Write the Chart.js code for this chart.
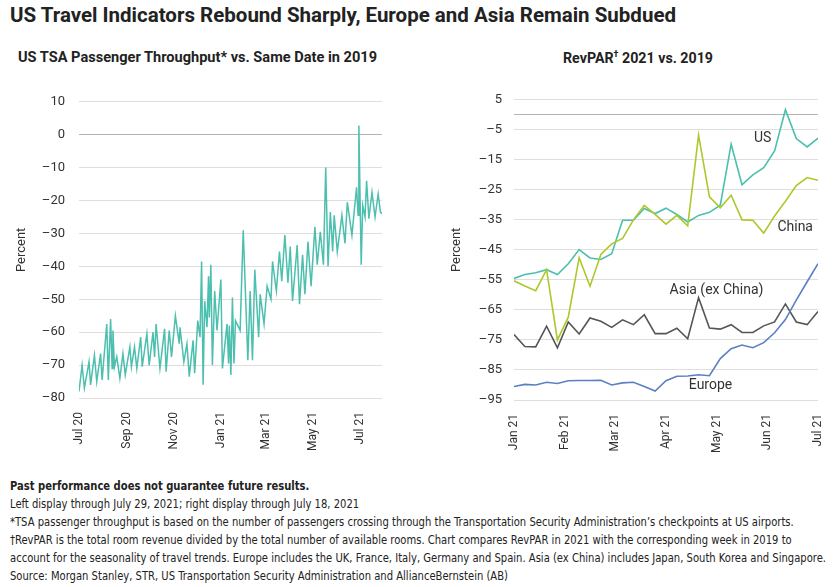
<!DOCTYPE html>
<html>
<head>
<meta charset="utf-8">
<script src="https://cdn.jsdelivr.net/npm/chart.js@4.4.1/dist/chart.umd.min.js"></script>
<style>
  body { margin: 0; width: 840px; height: 587px; background: #fff; position: relative; overflow: hidden; color: #222; font-family: Roboto, 'DejaVu Sans', sans-serif; }
  .fit { position: absolute; white-space: nowrap; transform-origin: 0 0; }
  .title { left: 10px; top: 3px; font-size: 20px; font-weight: 700; }
  .sub { top: 49px; font-size: 14px; font-weight: 700; }
  .notes { left: 10px; top: 477px; font-family: 'DejaVu Sans Condensed', Roboto, sans-serif; font-size: 12px; line-height: 18px; }
  .notes span { display: inline-block; }
  canvas { position: absolute; }
</style>
</head>
<body>
<div class="fit title"><span id="title">US Travel Indicators Rebound Sharply, Europe and Asia Remain Subdued</span></div>
<div class="fit sub" style="left:18px"><span id="subLeft">US TSA Passenger Throughput* vs. Same Date in 2019</span></div>
<div class="fit sub" style="left:563px"><span id="subRight">RevPAR<sup style="font-size:9px">†</sup> 2021 vs. 2019</span></div>
<canvas id="tsa" width="400" height="390" style="left:0;top:80px"></canvas>
<canvas id="revpar" width="420" height="390" style="left:420px;top:80px"></canvas>
<div class="fit notes" id="notes">
  <span style="font-weight:700">Past performance does not guarantee future results.</span><br>
  <span>Left display through July 29, 2021; right display through July 18, 2021</span><br>
  <span>*TSA passenger throughput is based on the number of passengers crossing through the Transportation Security Administration’s checkpoints at US airports.</span><br>
  <span>†RevPAR is the total room revenue divided by the total number of available rooms. Chart compares RevPAR in 2021 with the corresponding week in 2019 to</span><br>
  <span id="longNote">account for the seasonality of travel trends. Europe includes the UK, France, Italy, Germany and Spain. Asia (ex China) includes Japan, South Korea and Singapore.</span><br>
  <span>Source: Morgan Stanley, STR, US Transportation Security Administration and AllianceBernstein (AB)</span>
</div>
<script>
// left chart: days since Jul 1 2020, percent vs 2019
const tsaDays = [0, 4, 7, 13, 15, 20, 23, 28, 30, 36, 38, 41, 43, 44, 46, 49, 53, 57, 60, 66, 68, 72, 75, 80, 82, 88, 91, 96, 98, 100,
  105, 111, 113, 117, 120, 125, 130, 131, 136, 140, 143, 148, 150, 154, 157, 159, 161, 163, 166, 168, 169, 171, 173, 176, 179,
  184, 186, 192, 194, 195, 197, 199, 201, 203, 209, 213, 219, 222, 225, 228, 233, 235, 240, 244, 249, 251, 256, 260, 263, 267,
  271, 274, 277, 283, 286, 290, 293, 297, 301, 306, 309, 313, 317, 320, 323, 326, 329, 331, 335, 341, 345, 348, 354, 360, 362,
  363, 366, 368, 371, 373, 376, 380, 384, 388, 391, 393];
const tsaValues = [-78, -70, -77, -69, -76, -67, -75, -66.5, -74.5, -57.5, -74.5, -56, -71, -59.5, -70.5, -67.5, -74, -66.5, -73, -64.5,
  -70.5, -64.5, -71, -61.5, -70.5, -60.5, -70, -60, -67.5, -57.5, -71, -59, -72, -59.5, -67.5, -55, -63.5, -58.5, -69, -63.5,
  -73.5, -62.5, -72.5, -56.5, -61.5, -38.5, -76, -50.5, -58.5, -43, -55.5, -39.5, -70, -47.5, -59.5, -44, -71, -57.5, -69.5, -58,
  -73, -49.5, -69.5, -56.5, -59.5, -29, -68.5, -47.5, -68.5, -41, -61.5, -48.5, -57.5, -46, -50, -38.5, -47.5, -35.5, -44.5, -30.5,
  -45, -34, -50.5, -33.5, -51.5, -36.5, -48.5, -32.5, -46, -28, -39.5, -29.5, -39.5, -10, -40, -23.5, -35.5, -24.5, -35.5, -24.5,
  -33, -20.5, -30.5, -16, -24.5, 2.8, -39.5, -21.5, -25, -14, -25.5, -17.5, -25, -18, -23.5, -24];
const tsaTickDays = [0, 62, 123, 184, 243, 304, 365];
const tsaTickLabels = ['Jul 20', 'Sep 20', 'Nov 20', 'Jan 21', 'Mar 21', 'May 21', 'Jul 21'];

// right chart: weekly, Jan 3 to Jul 18 2021
const revparWeeks = [0, 1, 2, 3, 4, 5, 6, 7, 8, 9, 10, 11, 12, 13, 14, 15, 16, 17, 18, 19, 20, 21, 22, 23, 24, 25, 26, 27, 28];
const revparMonths = ['Jan 21', 'Feb 21', 'Mar 21', 'Apr 21', 'May 21', 'Jun 21', 'Jul 21'];
const usRevpar = [-54.5, -53.2, -52.6, -51.6, -53.2, -49.6, -44.9, -47.7, -48.2, -46.3, -35.1, -35.1, -31.2, -32.9, -31.1,
  -33.2, -35.7, -33.5, -32.5, -30.1, -9.8, -23.3, -20, -17.6, -12, 1.7, -7.9, -10.7, -7.8];
const chinaRevpar = [-55.3, -57, -58.6, -51.6, -75, -67.4, -47.6, -57.1, -46.5, -43, -41.2, -35, -30.2, -33.2, -36.4,
  -33.5, -37, -6.8, -27.3, -31, -26.8, -35, -35.1, -39.4, -33.7, -28.8, -23.6, -20.9, -21.8];
const asiaRevpar = [-73.2, -77.2, -77.3, -70.4, -77.6, -69, -73, -67.7, -68.8, -70.8, -68.3, -69.9, -66.6, -72.9, -72.9,
  -71.1, -74.6, -60.9, -71, -71.4, -69.9, -72.5, -72.5, -70.3, -69, -63, -69, -69.9, -65.5];
const europeRevpar = [-90.5, -89.8, -90, -89.1, -89.5, -88.6, -88.5, -88.5, -88.4, -90, -89.3, -89.1, -90.5, -92, -88.6,
  -87.1, -87, -86.6, -86.9, -81.2, -77.9, -76.7, -77.6, -75.9, -72.6, -68.2, -61.7, -55.6, -49.6];

// squeeze the headings and notes to the widths of the original
const fitTo = (box, span, width) => {
  box.style.transform = 'scaleX(' + (width / span.getBoundingClientRect().width) + ')';
};
fitTo(document.getElementById('title').parentNode, document.getElementById('title'), 666);
fitTo(document.getElementById('subLeft').parentNode, document.getElementById('subLeft'), 359);
fitTo(document.getElementById('subRight').parentNode, document.getElementById('subRight'), 150);
fitTo(document.getElementById('notes'), document.getElementById('longNote'), 816);

const dash = v => (v < 0 ? '\u2013' + Math.abs(v) : String(v));
const tickFont = { family: "Roboto, 'DejaVu Sans', sans-serif", size: 13 };
const gridColor = ctx => (ctx.tick && ctx.tick.value === 0 ? '#b3b3b3' : '#dedede');

new Chart(document.getElementById('tsa'), {
  type: 'line',
  data: {
    datasets: [{
      data: tsaDays.map((d, i) => ({ x: d, y: tsaValues[i] })),
      borderColor: '#4cbfae',
      borderWidth: 1.5,
      pointRadius: 0,
      tension: 0
    }]
  },
  options: {
    responsive: false,
    animation: false,
    devicePixelRatio: 1,
    layout: { padding: { top: 18, right: 18 } },
    plugins: { legend: { display: false }, tooltip: { enabled: false } },
    scales: {
      x: {
        type: 'linear', min: 0, max: 393,
        afterBuildTicks: s => { s.ticks = tsaTickDays.map(d => ({ value: d })); },
        afterFit: s => { s.height = 72; },
        grid: { display: false }, border: { display: false },
        ticks: { autoSkip: false, minRotation: 90, maxRotation: 90, padding: 6, color: '#333', font: { ...tickFont, size: 12 },
          callback: (v, i) => tsaTickLabels[i] }
      },
      y: {
        min: -80, max: 10,
        afterFit: s => { s.width = 79; },
        grid: { color: gridColor, drawTicks: false, lineWidth: 1 }, border: { display: false },
        ticks: { stepSize: 10, padding: 14, color: '#333', font: tickFont, callback: dash },
        title: { display: true, text: 'Percent', color: '#333', font: tickFont, padding: { top: 14, bottom: 0 } }
      }
    }
  }
});

const seriesLabels = {
  id: 'seriesLabels',
  afterDatasetsDraw(chart) {
    const { ctx, scales: { x, y } } = chart;
    ctx.save();
    ctx.fillStyle = '#333';
    ctx.font = "14px Roboto, 'DejaVu Sans', sans-serif";
    ctx.textAlign = 'center';
    ctx.textBaseline = 'middle';
    chart.data.datasets.forEach(ds => {
      ctx.fillText(ds.label, x.getPixelForValue(ds.labelAt[0]), y.getPixelForValue(ds.labelAt[1]));
    });
    ctx.restore();
  }
};

const line = (label, values, color, labelAt) => ({
  label: label,
  data: revparWeeks.map((w, i) => ({ x: w, y: values[i] })),
  borderColor: color,
  borderWidth: 1.6,
  pointRadius: 0,
  tension: 0,
  labelAt: labelAt
});

new Chart(document.getElementById('revpar'), {
  type: 'line',
  data: {
    datasets: [
      line('Europe', europeRevpar, '#5b80c2', [18.1, -90.2]),
      line('Asia (ex China)', asiaRevpar, '#555555', [18.65, -58.4]),
      line('China', chinaRevpar, '#adc82a', [25.9, -37.5]),
      line('US', usRevpar, '#4cbfae', [22.9, -7.9])
    ]
  },
  plugins: [seriesLabels],
  options: {
    responsive: false,
    animation: false,
    devicePixelRatio: 1,
    layout: { padding: { top: 17, right: 22 } },
    plugins: { legend: { display: false }, tooltip: { enabled: false } },
    scales: {
      x: {
        type: 'linear', min: 0, max: 28,
        afterBuildTicks: s => { s.ticks = revparMonths.map((m, i) => ({ value: i * 28 / 6 })); },
        afterFit: s => { s.height = 70; },
        grid: { display: false }, border: { display: false },
        ticks: { autoSkip: false, minRotation: 90, maxRotation: 90, padding: 6, color: '#333', font: { ...tickFont, size: 12 },
          callback: (v, i) => revparMonths[i] }
      },
      y: {
        min: -95, max: 5,
        afterBuildTicks: s => {
          s.ticks = s.ticks.concat([{ value: 0 }]).sort((a, b) => a.value - b.value);
        },
        afterFit: s => { s.width = 94; },
        grid: { color: gridColor, drawTicks: false, lineWidth: 1 }, border: { display: false },
        ticks: { stepSize: 10, padding: 12, autoSkip: false, color: '#333', font: tickFont,
          callback: v => (v === 0 ? '' : dash(v)) },
        title: { display: true, text: 'Percent', color: '#333', font: tickFont, padding: { top: 29, bottom: 0 } }
      }
    }
  }
});
</script>
</body>
</html>
